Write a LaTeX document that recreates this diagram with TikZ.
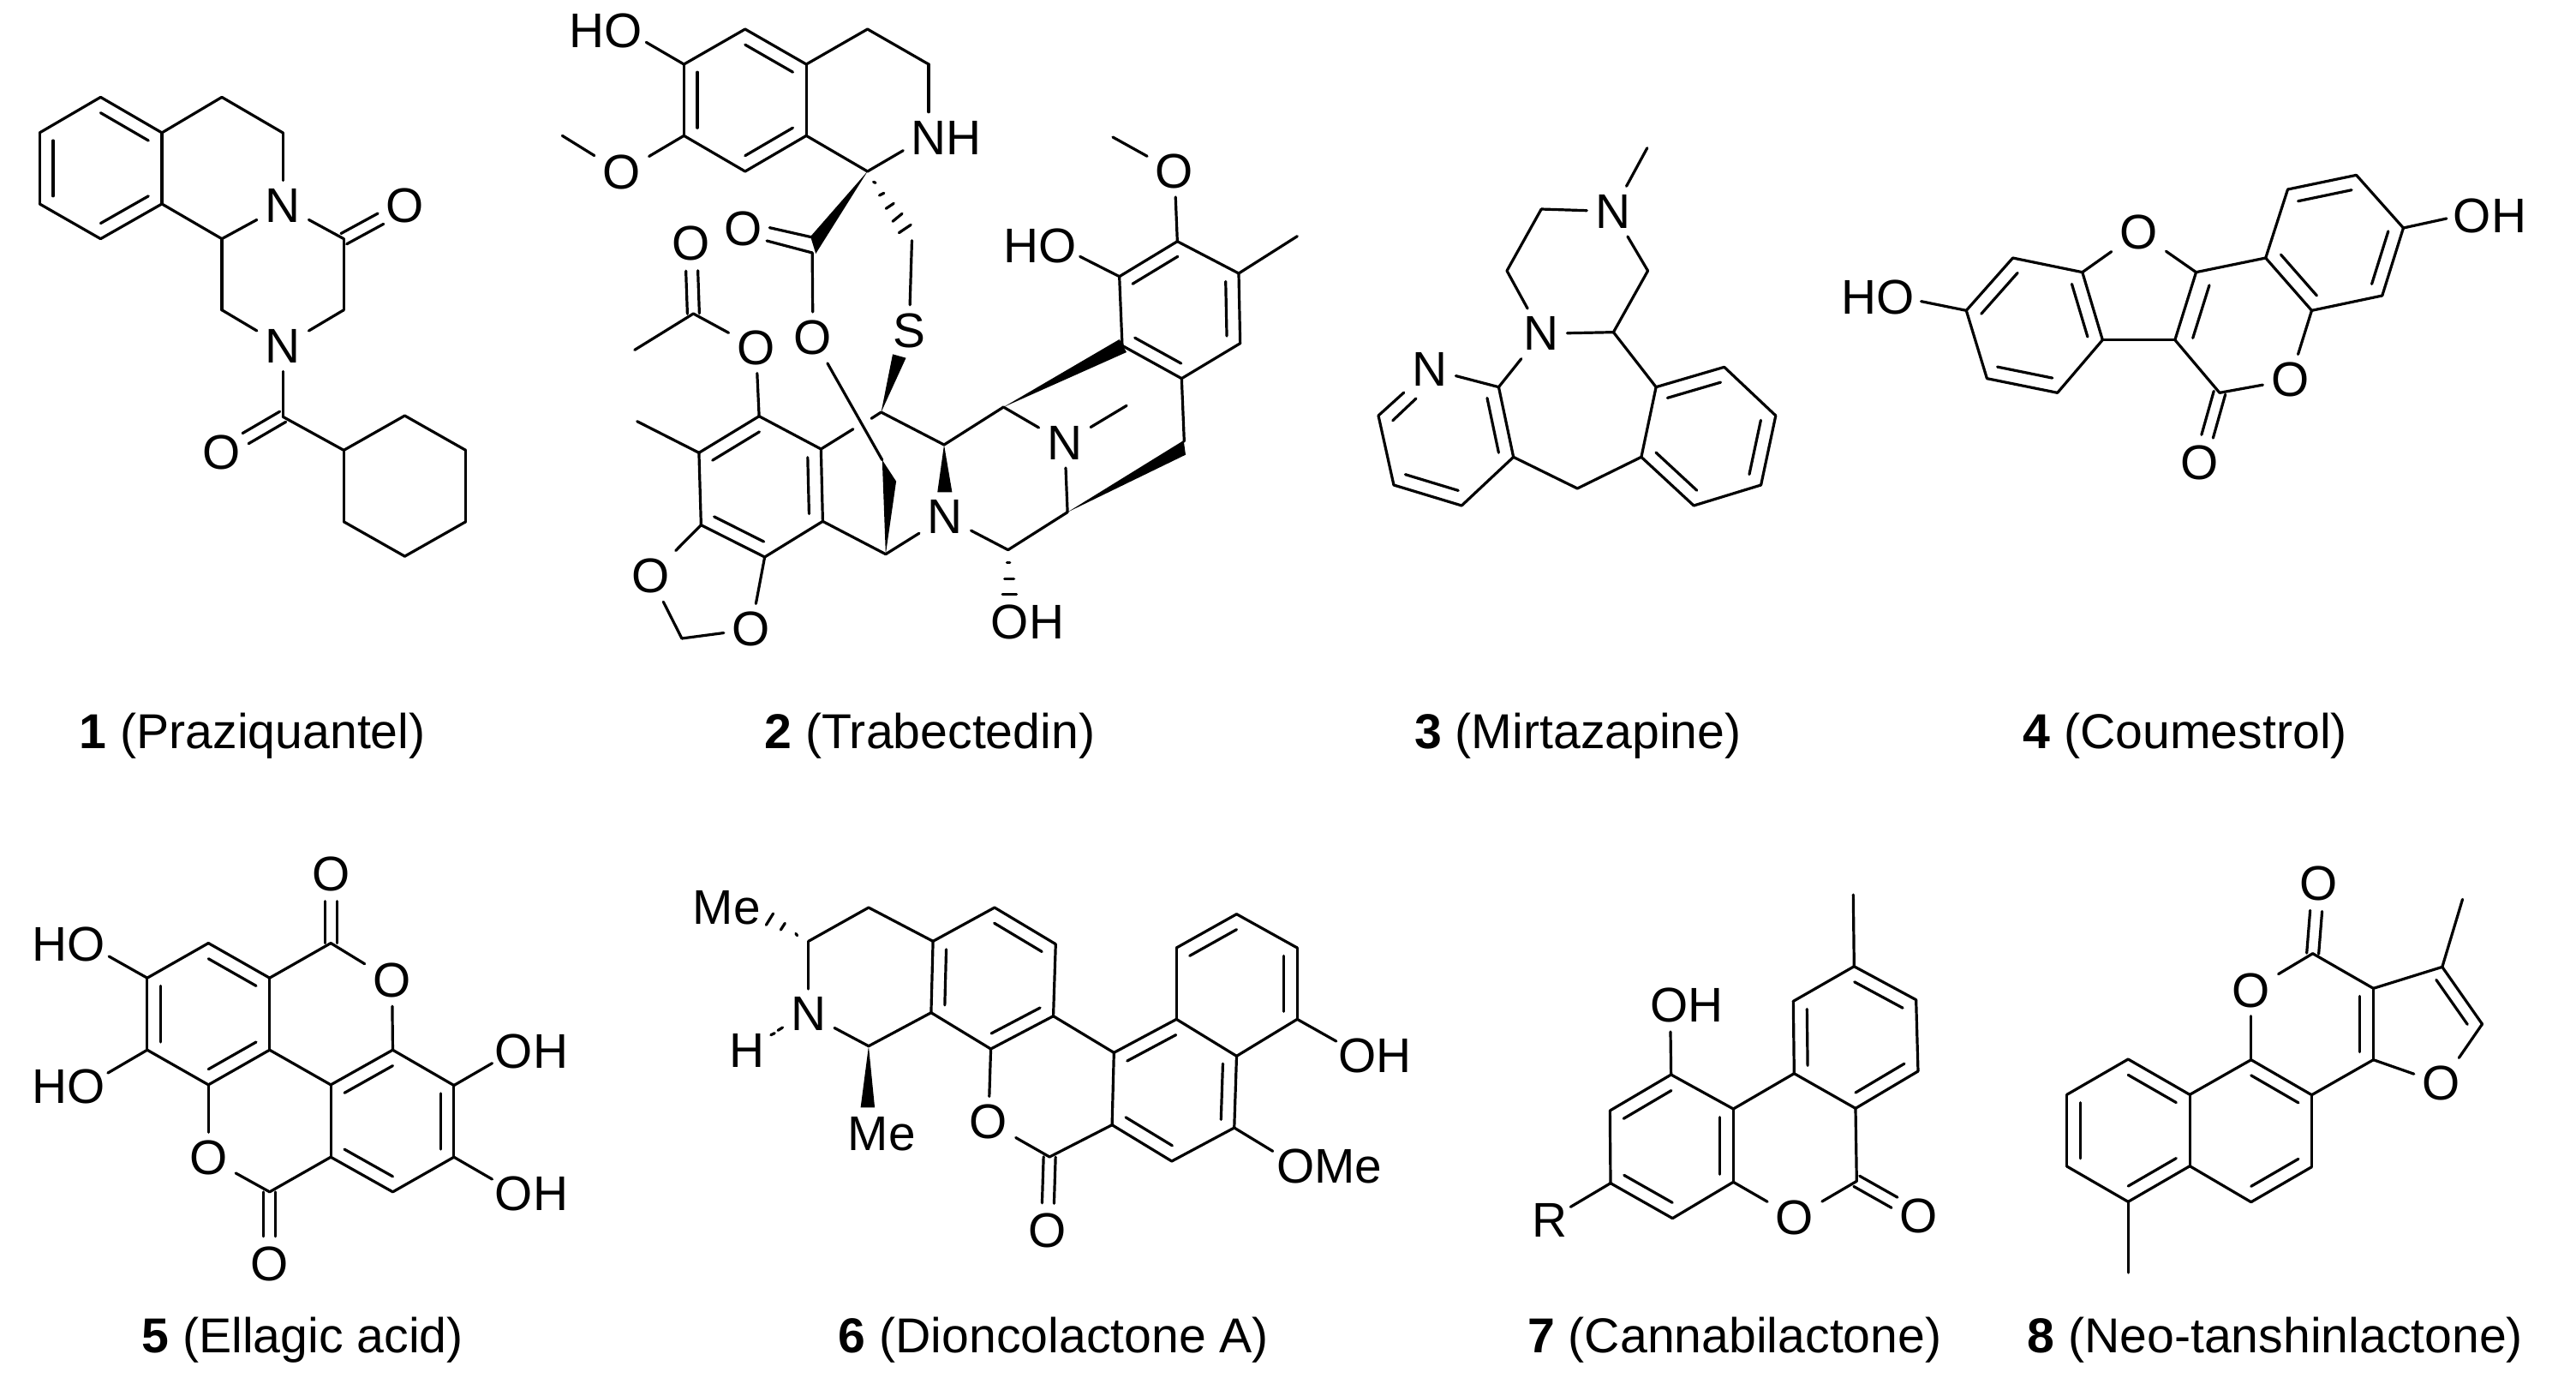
\documentclass[tikz,border=0pt]{standalone}
\usepackage{fontspec}
\setmainfont{Liberation Sans}
\usetikzlibrary{calc}
\tikzset{
  bond/.style={line width=.8pt,line cap=round,line join=round,black},
  atom/.style={font=\fontsize{14.2}{16}\selectfont,inner sep=2.25pt,anchor=center},
  caption/.style={font=\fontsize{14.3}{16}\selectfont,inner sep=0pt,anchor=base west},
  z1/.style={shift={(0pt,-15pt)},x=.09885pt,y=-.09885pt},
  z2/.style={shift={(160pt,0pt)},x=.10204pt,y=-.08333pt},
  z3/.style={shift={(175pt,-80pt)},x=.10204pt,y=-.08333pt},
  z11/.style={shift={(275pt,-35pt)},x=.08333pt,y=-.08333pt},
  z4/.style={shift={(390pt,-30pt)},x=.09567pt,y=-.08333pt},
  z5/.style={shift={(535pt,-40pt)},x=.13714pt,y=-.08333pt},
  z6/.style={shift={(0pt,-245pt)},x=.11161pt,y=-.08609pt},
  z7/.style={shift={(200pt,-255pt)},x=.13714pt,y=-.08333pt},
  z8/.style={shift={(445pt,-255pt)},x=.08333pt,y=-.08333pt},
  z9/.style={shift={(600pt,-250pt)},x=.09567pt,y=-.08333pt},
}
\newcommand{\molpts}[2]{\foreach \pn/\px/\py in {#2}{\coordinate (#1\pn) at (\px,\py);}}
\newcommand{\molatoms}[2]{\foreach \pn/\px/\py/\ptx in {#2}{\node[atom] (#1\pn) at (\px,\py) {\ptx};}}
\newcommand{\molbonds}[2]{\foreach \pa/\pb in {#2}{\draw[bond] (#1\pa) -- (#1\pb);}}
\newcommand{\molinner}[2]{\foreach \pa/\pb/\pc in {#2}{\draw[bond] ($(#1\pa)!.22!(#1\pc)$) -- ($(#1\pb)!.22!(#1\pc)$);}}
\newcommand{\moldbl}[2]{\foreach \pa/\pb in {#2}{%
  \draw[bond,shorten >=8pt] ($(#1\pa)!1.75pt!90:(#1\pb)$) -- ($(#1\pb)!1.75pt!-90:(#1\pa)$);
  \draw[bond,shorten >=8pt] ($(#1\pa)!1.75pt!-90:(#1\pb)$) -- ($(#1\pb)!1.75pt!90:(#1\pa)$);}}
\newcommand{\molwedge}[2]{\foreach \pa/\pb/\pc in {#2}{\fill (#1\pa) -- (#1\pb) -- (#1\pc) -- cycle;}}
\newcommand{\molsegs}[1]{\foreach \pa/\pb/\pc/\pd in {#1}{\draw[bond] (\pa,\pb) -- (\pc,\pd);}}
\begin{document}
\begin{tikzpicture}
\useasboundingbox (0pt,0pt) rectangle (751.75pt,-405.25pt);

% 1 Praziquantel
\begin{scope}[z1]
\molpts{p}{b1/297/135,b2/478/240,b3/478/450,b4/297/553,b5/117/450,b6/117/240,bc/297/345,
 c1/655/135,c2/835/240,c3/655/553,c4/655/763,c5/1015/763,c6/1015/553,c7/835/1078,
 y1/1015/1177,y2/1195/1075,y3/1375/1177,y4/1375/1388,y5/1195/1490,y6/1015/1388}
\molatoms{p}{N1/835/455/N,N2/835/870/N,O1/1195/455/O,O2/655/1183/O}
\molbonds{p}{b1/b2,b2/b3,b3/b4,b4/b5,b5/b6,b6/b1,b2/c1,c1/c2,c2/N1,N1/c3,b3/c3,c3/c4,c4/N2,N2/c5,c5/c6,c6/N1,N2/c7,c7/y1,y1/y2,y2/y3,y3/y4,y4/y5,y5/y6,y6/y1}
\molinner{p}{b1/b2/bc,b3/b4/bc,b5/b6/bc}
\moldbl{p}{c6/O1,c7/O2}
\end{scope}

% 2 Trabectedin
\begin{scope}[z2]
\molpts{t}{r1/563/102,r2/738/225,r3/738/475,r4/563/600,r5/388/475,r6/388/225,rc/563/350,
 c1/913/102,c2/1088/225,c3/913/600,e1/1088/392,e2/1015/527,e3/280/148,me/40/475,
 k/755/885,w1/750/828,w2/765/888,kx/633/797,ky/752/830,kz/625/843,ch/1040/842,ac/415/1098}
\molatoms{t}{HO1/164/108/HO,NH/1139/482/NH,Om/210/604/O,Ok/558/802/O,Oa/408/852/O}
\molbonds{t}{r1/r2,r2/r3,r3/r4,r4/r5,r5/r6,r6/r1,r2/c1,c1/c2,c2/e1,r3/c3,c3/e2,r6/e3,r5/Om,Om/me,kx/ky,kz/k}
\molinner{t}{r1/r2/rc,r3/r4/rc,r5/r6/rc}
\molwedge{t}{c3/w1/w2}
\moldbl{t}{ac/Oa}
\molsegs{930/637/936/640,947/684/960/676,966/730/988/712,985/775/1012/748,1003/815/1037/787}
\end{scope}
\begin{scope}[z3]
\molpts{t}{a1/456/497,a2/633/612,a3/638/865,a4/472/990,a5/290/878,a6/284/625,ax/460/745,
 am/100/265,m6/107/515,ch2/235/1275,x1/725/542,x2/777/505,b1/805/483,sw1/838/280,sw2/876/293,
 b2/985/597,nw1/966/763,nw2/1008/763,d1/808/650,d3/848/725,d2/818/980,b3/1155/465,e4/1168/965,f1/1338/833,ms/1507/460}
\molatoms{t}{Oe/447/257/O,Ol/610/222/O,S/885/197/S,O1/145/1057/O,O2/433/1243/O,N1/988/850/N,N2/1330/590/N,OH/1224/1217/OH}
\molbonds{t}{ac/am,ac/Oe,Oe/a1,k/Ol,ch/S,a1/a2,a2/a3,a3/a4,a4/a5,a5/a6,a6/a1,a6/m6,a5/O1,O1/ch2,ch2/O2,O2/a4,a2/x1,x2/b1,Ol/d1,a3/d2,d2/N1,N1/e4,e4/f1,f1/N2,N2/b3,N2/ms,b3/b2,b2/b1}
\molinner{t}{a1/a6/ax,a2/a3/ax,a4/a5/ax}
\molwedge{t}{b1/sw1/sw2,b2/nw1/nw2,d2/d1/d3}
\molsegs{1165/1010/1173/1010,1158/1067/1185/1067,1152/1120/1192/1120}
\end{scope}
\begin{scope}[z11]
\molpts{t}{g1/823/425,g2/1038/537,g3/1043/782,g4/838/905,g5/630/790,g6/620/548,gc/830/665,
 om/597/60,gm/1243/407,ge/482/478,h/847/1125,bw1/620/768,bw2/645/813,fw1/845/1122,fw2/852/1172}
\molatoms{t}{Og/813/180/O,HO2/341/440/HO}
\molbonds{t}{g1/g2,g2/g3,g3/g4,g4/g5,g5/g6,g6/g1,g1/Og,Og/om,g2/gm,g6/ge,g4/h}
\molinner{t}{g1/g6/gc,g2/g3/gc,g4/g5/gc}
\molwedge{t}{b3/bw1/bw2,f1/fw1/fw2}
\end{scope}

% 3 Mirtazapine
\begin{scope}[z4]
\molpts{m}{me/948/158,a/625/372,b/520/588,c/950/588,d/845/803,e/495/995,f/975/995,g/540/1240,h/382/1410,i/175/1338,j/128/1095,pc/335/1170,
 k/735/1350,l/930/1240,q/1183/925,n/1340/1095,o/1295/1338,r/1090/1410,bc/1133/1168,jx/172/1112,jy/243/1035}
\molatoms{m}{N1/843/380/N,N2/625/808/N,N3/285/932/N}
\molbonds{m}{N1/me,a/N1,a/b,b/N2,N1/c,c/d,d/N2,N2/e,d/f,N3/e,e/g,g/h,h/i,i/j,j/N3,g/k,k/l,f/q,q/n,n/o,o/r,r/l,l/f,jx/jy}
\molinner{m}{e/g/pc,h/i/pc,f/q/bc,n/o/bc,r/l/bc}
\end{scope}

% 4 Coumestrol
\begin{scope}[z5]
\molpts{c}{A1/283/607,A2/382/423,A3/530/473,A4/573/710,A5/477/895,A6/327/845,Ac/428/660,
 B1/772/473,B2/727/710,Bc/900/680,D1/920/423,D2/1018/607,D3/1168/555,D4/1213/318,D5/1113/133,D6/967/183,Dc/1067/370,
 C/822/895,e1/187/575,e2/1305/285}
\molatoms{c}{HO/95/562/HO,OH/1397/275/OH,Of/650/333/O,Ol/972/850/O,Oc/780/1140/O}
\molbonds{c}{A1/A2,A2/A3,A3/A4,A4/A5,A5/A6,A6/A1,A1/e1,A3/Of,Of/B1,B1/B2,A4/B2,B1/D1,D1/D2,D2/Ol,Ol/C,C/B2,D2/D3,D3/D4,D4/D5,D5/D6,D6/D1,D4/e2}
\molinner{c}{A1/A2/Ac,A3/A4/Ac,A5/A6/Ac,B1/B2/Bc,D1/D2/Dc,D3/D4/Dc,D5/D6/Dc}
\moldbl{c}{C/Oc}
\end{scope}

% 5 Ellagic acid
\begin{scope}[z6]
\molpts{e}{a1/545/350,a2/705/468,a3/705/712,a4/545/830,a5/385/712,a6/385/468,ac/545/590,
 b1/1027/712,b2/865/830,b3/865/1075,b4/1027/1193,b5/1187/1075,b6/1187/832,bc/1027/955,
 c1/865/350,c2/705/1193,f1/285/395,f2/282/790,f3/1287/757,f4/1287/1150}
\molatoms{e}{HOa/180/355/HO,HOb/180/836/HO,OHa/1390/717/OH,OHb/1390/1198/OH,O1/1025/477/O,O2/545/1078/O,O3/865/115/O,O4/705/1437/O}
\molbonds{e}{a1/a2,a2/a3,a3/a4,a4/a5,a5/a6,a6/a1,a6/f1,a5/f2,a2/c1,c1/O1,O1/b1,a3/b2,b1/b2,b2/b3,b3/b4,b4/b5,b5/b6,b6/b1,b6/f3,b5/f4,a4/O2,O2/c2,c2/b3}
\molinner{e}{a1/a2/ac,a3/a4/ac,a5/a6/ac,b1/b2/bc,b3/b4/bc,b5/b6/bc}
\moldbl{e}{c1/O3,c2/O4}
\end{scope}

% 6 Dioncolactone A
\begin{scope}[z7]
\molpts{d}{c1/262/235,c2/390/117,c3/527/235,c4/390/602,c5/523/485,d1/658/117,d2/788/245,d3/783/497,d4/650/612,dc/655/365,
 e1/775/990,f1/912/625,f2/1045/508,f3/1173/637,f4/1168/888,f5/1035/1005,f6/908/878,fc/1040/757,
 g1/1045/258,g2/1173/140,g3/1302/258,g4/1302/508,gc/1173/385,w1/373/817,w2/403/817,h1/1385/585,h2/1250/970}
\molatoms{d}{Mea/88/118/Me,Meb/418/910/Me,N/262/490/N,H/132/617/H,O1/645/868/O,O2/770/1248/O,OH/1468/635/OH,OMe/1370/1023/OMe}
\molbonds{d}{c1/c2,c2/c3,c1/N,N/c4,c4/c5,c3/d1,d1/d2,d2/d3,d3/d4,d4/c5,c5/c3,d4/O1,O1/e1,e1/f6,d3/f1,f1/f2,f2/f3,f3/f4,f4/f5,f5/f6,f6/f1,f2/g1,g1/g2,g2/g3,g3/g4,g4/f3,g4/h1,f4/h2}
\molinner{d}{c3/c5/dc,d1/d2/dc,d3/d4/dc,f1/f2/fc,f3/f4/fc,f5/f6/fc,g1/g2/gc,g3/g4/gc}
\molwedge{d}{c4/w1/w2}
\moldbl{d}{e1/O2}
\molsegs{235/208/238/215,203/195/212/172,172/178/187/138,182/563/190/557,197/547/207/537}
\end{scope}

% 7 Cannabilactone
\begin{scope}[z8]
\molpts{n}{me/1150/72,a1/1153/323,a2/1370/440,a3/1377/690,a4/1158/820,a5/943/698,a6/940/445,ac/1158/570,
 c1/1162/1075,b1/730/1078,b2/730/822,b3/512/702,b4/298/828,b5/300/1082,b6/517/1205,bc/515/955,h1/510/552,h2/160/1165}
\molatoms{n}{O1/945/1202/O,O2/1378/1197/O,OH/568/458/OH,R/88/1212/R}
\molbonds{n}{me/a1,a1/a2,a2/a3,a3/a4,a4/a5,a5/a6,a6/a1,a4/c1,c1/O1,O1/b1,b1/b2,a5/b2,b2/b3,b3/b4,b4/b5,b5/b6,b6/b1,b3/h1,b5/h2}
\molinner{n}{a1/a2/ac,a3/a4/ac,a5/a6/ac,b1/b2/bc,b3/b4/bc,b5/b6/bc}
\moldbl{n}{c1/O2}
\end{scope}

% 8 Neo-tanshinlactone
\begin{scope}[z9]
\molpts{s}{c1/783/338,c2/968/460,c3/968/710,cc/780/585,d1/1178/385,d2/1300/585,fc/1095/590,me/1240/148,
 a1/595/710,a2/780/833,a3/780/1085,a4/595/1208,a5/408/1082,a6/408/832,ac/595/958,
 b1/220/708,b2/33/832,b3/33/1083,b4/220/1207,bc/220/958,mb/220/1455}
\molatoms{s}{O1/800/93/O,O2/595/467/O,O3/1175/793/O}
\molbonds{s}{c1/O2,O2/a1,c1/c2,c2/c3,c3/a2,c2/d1,d1/me,d1/d2,d2/O3,O3/c3,a1/a2,a2/a3,a3/a4,a4/a5,a5/a6,a6/a1,a6/b1,b1/b2,b2/b3,b3/b4,b4/a5,b4/mb}
\molinner{s}{c2/c3/cc,a1/a2/ac,a3/a4/ac,b1/a6/bc,b2/b3/bc,b4/a5/bc,d1/d2/fc}
\moldbl{s}{c1/O1}
\end{scope}

% captions
\node[caption] (L1) at (23pt,-218.25pt) {\textbf{1} (Praziquantel)};
\node[caption] (L2) at (222.9pt,-218.25pt) {\textbf{2} (Trabectedin)};
\node[caption] (L3) at (412.6pt,-218.25pt) {\textbf{3} (Mirtazapine)};
\node[caption] (L4) at (590.2pt,-218.25pt) {\textbf{4} (Coumestrol)};
\node[caption] (L5) at (41.2pt,-394.5pt) {\textbf{5} (Ellagic acid)};
\node[caption] (L6) at (244.5pt,-394.5pt) {\textbf{6} (Dioncolactone A)};
\node[caption] (L7) at (445.6pt,-394.5pt) {\textbf{7} (Cannabilactone)};
\node[caption] (L8) at (591.4pt,-394.5pt) {\textbf{8} (Neo-tanshinlactone)};
\end{tikzpicture}
\end{document}
